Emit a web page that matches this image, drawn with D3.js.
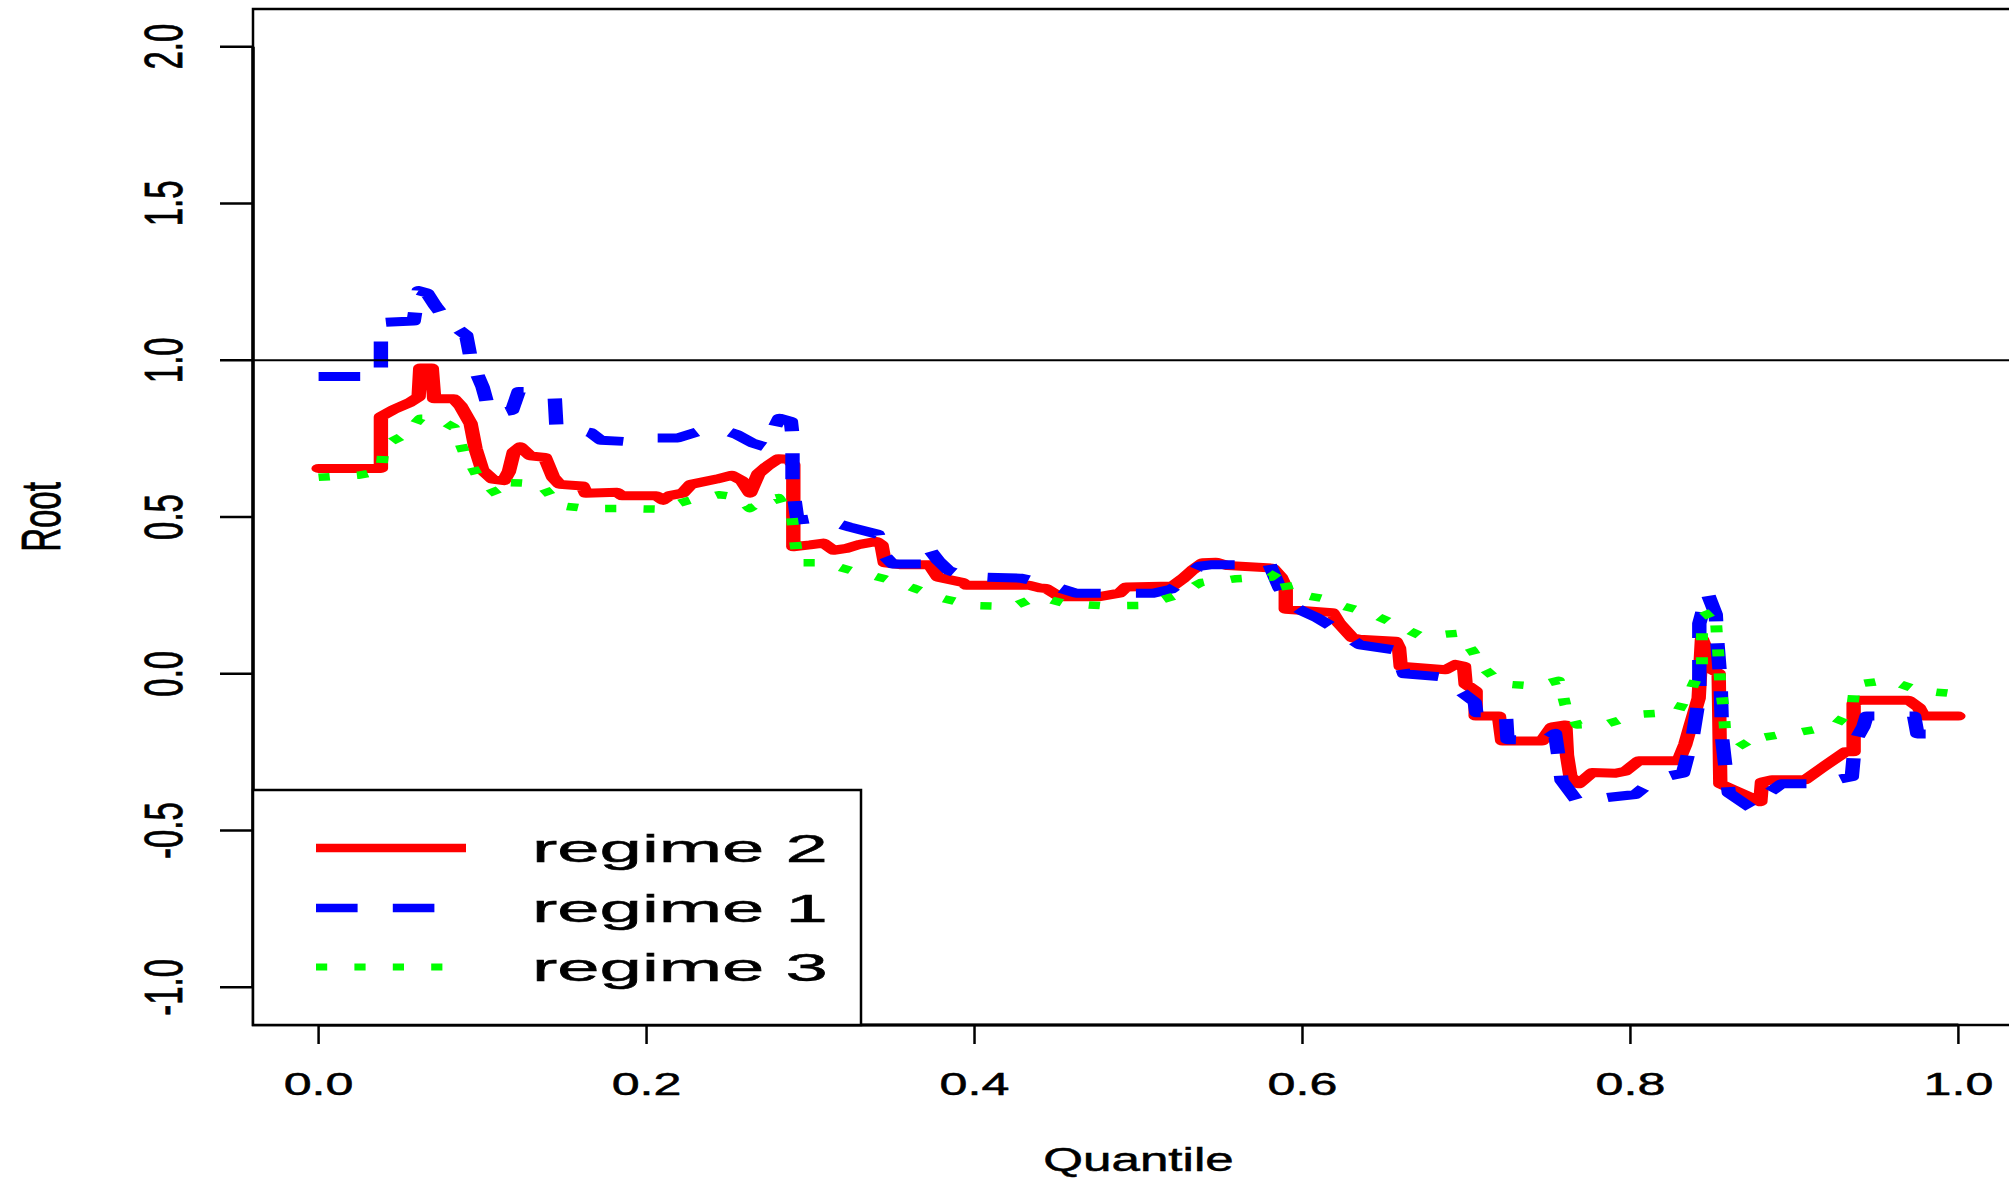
<!DOCTYPE html>
<html>
<head>
<meta charset="utf-8">
<script src="https://cdn.jsdelivr.net/npm/d3@7"></script>
<style>
html,body{margin:0;padding:0;background:#fff;}
svg{display:block;}
text{font-family:"Liberation Sans",Arial,Helvetica,sans-serif;fill:#000;stroke:#000;stroke-width:0.5px;}
</style>
</head>
<body>
<svg id="chart" width="2009" height="1179"></svg>
<script>
// ---------------- data ----------------
const xTicks = [0.0, 0.2, 0.4, 0.6, 0.8, 1.0];
const xTickLabels = ["0.0", "0.2", "0.4", "0.6", "0.8", "1.0"];
const yTicks = [-1.0, -0.5, 0.0, 0.5, 1.0, 1.5, 2.0];
const yTickLabels = ["-1.0", "-0.5", "0.0", "0.5", "1.0", "1.5", "2.0"];
const refLine = 1.0;
const seriesNames = ["regime 2", "regime 1", "regime 3"];

// regime 2 (red, solid)
const regime2Q = [0,0.038,0.038,0.046,0.056,0.061,0.062,0.069,0.0705,0.0825,0.0866,0.0927,0.0957,0.0998,0.106,0.113,0.116,0.119,0.123,0.129,0.138,0.143,0.147,0.161,0.163,0.182,0.185,0.206,0.21,0.214,0.222,0.227,0.2428,0.252,0.2581,0.2631,0.2682,0.2733,0.2804,0.2865,0.2895,0.2895,0.2997,0.3078,0.314,0.322,0.3301,0.3403,0.3433,0.3453,0.3544,0.3727,0.3778,0.393,0.395,0.4336,0.4397,0.4437,0.4519,0.4762,0.4884,0.4924,0.5209,0.5269,0.533,0.5391,0.5472,0.5543,0.5817,0.5868,0.5898,0.5898,0.6182,0.6223,0.6304,0.6345,0.6568,0.6589,0.6599,0.6873,0.6934,0.6985,0.6995,0.7056,0.7056,0.7198,0.7218,0.7461,0.7522,0.7603,0.7613,0.7634,0.7685,0.7766,0.7908,0.7969,0.805,0.8294,0.8334,0.8365,0.8416,0.8436,0.8467,0.8497,0.8538,0.8548,0.8619,0.8741,0.8792,0.8802,0.8863,0.9066,0.9168,0.931,0.9361,0.9361,0.9391,0.9696,0.9757,0.9787,1.0];
const regime2V = [0.655,0.655,0.82,0.843,0.866,0.883,0.975,0.975,0.877,0.877,0.854,0.798,0.718,0.65,0.621,0.616,0.644,0.707,0.724,0.695,0.69,0.627,0.604,0.599,0.576,0.579,0.568,0.568,0.553,0.568,0.576,0.604,0.621,0.633,0.616,0.576,0.638,0.661,0.686,0.684,0.667,0.405,0.411,0.417,0.394,0.4,0.413,0.422,0.411,0.354,0.348,0.348,0.308,0.291,0.282,0.282,0.274,0.272,0.246,0.246,0.257,0.277,0.28,0.303,0.331,0.354,0.356,0.345,0.337,0.308,0.274,0.206,0.195,0.161,0.115,0.11,0.104,0.081,0.024,0.013,0.03,0.024,-0.033,-0.055,-0.135,-0.135,-0.214,-0.214,-0.169,-0.163,-0.26,-0.328,-0.351,-0.315,-0.317,-0.311,-0.277,-0.277,-0.226,-0.169,-0.078,0.11,0.07,0.013,0.001,-0.351,-0.368,-0.396,-0.408,-0.345,-0.338,-0.338,-0.3,-0.249,-0.249,-0.095,-0.084,-0.084,-0.107,-0.135,-0.135];

// regime 1 (blue, dashed)
const regime1Q = [0,0.038,0.038,0.058,0.061,0.066,0.071,0.078,0.09,0.093,0.1,0.104,0.108,0.118,0.122,0.13,0.144,0.145,0.166,0.172,0.19,0.204,0.219,0.236,0.245,0.255,0.265,0.272,0.281,0.288,0.289,0.289,0.292,0.305,0.324,0.341,0.345,0.35,0.37,0.372,0.378,0.384,0.395,0.428,0.442,0.462,0.49,0.509,0.52,0.526,0.537,0.545,0.58,0.586,0.594,0.6,0.609,0.622,0.635,0.657,0.662,0.685,0.695,0.705,0.706,0.724,0.725,0.748,0.754,0.756,0.758,0.768,0.781,0.803,0.815,0.832,0.838,0.842,0.842,0.847,0.852,0.853,0.855,0.856,0.858,0.86,0.874,0.877,0.892,0.913,0.935,0.937,0.942,0.944,0.973,0.975,1.0];
const regime1V = [0.948,0.948,1.12,1.125,1.222,1.215,1.175,1.127,1.08,1.0,0.915,0.84,0.83,0.84,0.9,0.9,0.883,0.79,0.769,0.745,0.74,0.752,0.752,0.78,0.78,0.763,0.735,0.724,0.815,0.805,0.76,0.6,0.49,0.496,0.468,0.445,0.377,0.35,0.35,0.40,0.36,0.33,0.31,0.305,0.29,0.257,0.257,0.257,0.27,0.291,0.343,0.348,0.348,0.274,0.217,0.2,0.178,0.138,0.092,0.075,0.0,-0.01,-0.05,-0.09,-0.124,-0.124,-0.21,-0.212,-0.19,-0.26,-0.34,-0.41,-0.397,-0.385,-0.334,-0.317,-0.2,-0.07,0.16,0.257,0.19,0.1,-0.03,-0.21,-0.3,-0.38,-0.43,-0.408,-0.351,-0.351,-0.328,-0.215,-0.169,-0.135,-0.135,-0.192,-0.192];

// regime 3 (green, dotted)
const regime3Q = [0,0.024,0.038,0.040,0.053,0.062,0.072,0.0825,0.0886,0.0967,0.109,0.115,0.135,0.147,0.164,0.186,0.208,0.226,0.244,0.255,0.263,0.271,0.2804,0.2885,0.2906,0.2926,0.3078,0.327,0.3453,0.3625,0.3809,0.4001,0.4234,0.4387,0.456,0.4793,0.5026,0.5229,0.5381,0.5594,0.5807,0.5868,0.5919,0.6131,0.6254,0.6405,0.6578,0.672,0.6944,0.7034,0.7115,0.7217,0.742,0.7563,0.7603,0.7675,0.7857,0.805,0.8284,0.8365,0.8436,0.8436,0.8517,0.8527,0.8538,0.8548,0.8568,0.8578,0.872,0.8802,0.9025,0.9239,0.9351,0.9371,0.9584,0.9767,1.0];
const regime3V = [0.627,0.633,0.645,0.729,0.763,0.815,0.815,0.786,0.707,0.633,0.57,0.61,0.606,0.536,0.527,0.527,0.525,0.553,0.571,0.565,0.527,0.555,0.562,0.502,0.422,0.354,0.354,0.326,0.303,0.274,0.24,0.217,0.215,0.246,0.223,0.217,0.218,0.249,0.291,0.303,0.308,0.331,0.257,0.24,0.215,0.195,0.155,0.121,0.129,0.075,0.013,-0.033,-0.038,-0.021,-0.099,-0.163,-0.16,-0.129,-0.124,-0.055,0.024,0.183,0.2,0.127,0.047,-0.033,-0.112,-0.186,-0.237,-0.203,-0.186,-0.169,-0.112,-0.033,-0.021,-0.055,-0.064];

// ---------------- drawing ----------------
const svg = d3.select("#chart");
const W = 2009, H = 1179;
const plot = {left: 253, right: 2024, top: 9, bottom: 1025};
const K = 1.6; // horizontal stretch of the original device

const x = d3.scaleLinear().domain([-0.04, 1.04]).range([plot.left, plot.right]);
const y = d3.scaleLinear().domain([-1.12, 2.12]).range([plot.bottom, plot.top]);

svg.append("rect").attr("width", W).attr("height", H).attr("fill", "#fff");

svg.append("defs").append("clipPath").attr("id", "plotclip")
  .append("rect").attr("x", plot.left).attr("y", plot.top)
  .attr("width", plot.right - plot.left).attr("height", plot.bottom - plot.top);

const series = [
  {name: seriesNames[0], q: regime2Q, v: regime2V, color: "#ff0000", width: 9, dash: null},
  {name: seriesNames[1], q: regime1Q, v: regime1V, color: "#0000ff", width: 9, dash: "26,22"},
  {name: seriesNames[2], q: regime3Q, v: regime3V, color: "#00ff00", width: 7.5, dash: "7,17"}
];

// lines drawn in a horizontally compressed frame, then stretched (anisotropic pen)
const line = d3.line().x(d => x(d[0]) / K).y(d => y(d[1]));
const gClip = svg.append("g").attr("clip-path", "url(#plotclip)");
const gLines = gClip.append("g").attr("transform", `scale(${K},1)`);
series.forEach(s => {
  const pts = s.q.map((q, i) => [q, s.v[i]]);
  gLines.append("path")
    .datum(pts)
    .attr("d", line)
    .attr("fill", "none")
    .attr("stroke", s.color)
    .attr("stroke-width", s.width)
    .attr("stroke-linejoin", "round")
    .attr("stroke-linecap", s.dash ? "butt" : "round")
    .attr("stroke-dasharray", s.dash);
});

// reference line
svg.append("line")
  .attr("x1", plot.left).attr("x2", plot.right)
  .attr("y1", y(refLine)).attr("y2", y(refLine))
  .attr("stroke", "#000").attr("stroke-width", 2);

// box
svg.append("rect")
  .attr("x", plot.left).attr("y", plot.top)
  .attr("width", plot.right - plot.left).attr("height", plot.bottom - plot.top)
  .attr("fill", "none").attr("stroke", "#000").attr("stroke-width", 2.5);
svg.append("line").attr("x1", plot.left).attr("x2", plot.left)
  .attr("y1", y(yTicks[yTicks.length-1])).attr("y2", y(yTicks[0]))
  .attr("stroke", "#000").attr("stroke-width", 3.5);
svg.append("line").attr("x1", x(xTicks[0])).attr("x2", x(xTicks[xTicks.length-1]))
  .attr("y1", plot.bottom).attr("y2", plot.bottom)
  .attr("stroke", "#000").attr("stroke-width", 3);

// x axis
const gx = svg.append("g");
xTicks.forEach((t, i) => {
  gx.append("line").attr("x1", x(t)).attr("x2", x(t))
    .attr("y1", plot.bottom).attr("y2", plot.bottom + 19)
    .attr("stroke", "#000").attr("stroke-width", 2.5);
  gx.append("text")
    .attr("transform", `translate(${x(t)},1095) scale(1.57,1)`)
    .attr("text-anchor", "middle")
    .attr("font-size", 32)
    .text(xTickLabels[i]);
});

// y axis
const gy = svg.append("g");
yTicks.forEach((t, i) => {
  gy.append("line").attr("x1", plot.left - 33).attr("x2", plot.left)
    .attr("y1", y(t)).attr("y2", y(t))
    .attr("stroke", "#000").attr("stroke-width", 2.5);
  gy.append("text")
    .attr("transform", `translate(182,${y(t)}) scale(1.6,1) rotate(-90)`)
    .attr("text-anchor", "middle")
    .attr("font-size", 33)
    .text(yTickLabels[i]);
});

// axis titles
svg.append("text")
  .attr("transform", `translate(${(plot.left + plot.right) / 2},1171) scale(1.55,1)`)
  .attr("text-anchor", "middle").attr("font-size", 33)
  .text("Quantile");
svg.append("text")
  .attr("transform", `translate(60,${(plot.top + plot.bottom) / 2}) scale(1.7,1) rotate(-90)`)
  .attr("text-anchor", "middle").attr("font-size", 33)
  .text("Root");

// legend
const legend = {x0: 253, x1: 861, y0: 790, y1: 1025};
svg.append("rect")
  .attr("x", legend.x0).attr("y", legend.y0)
  .attr("width", legend.x1 - legend.x0).attr("height", legend.y1 - legend.y0)
  .attr("fill", "#fff").attr("stroke", "#000").attr("stroke-width", 2.5);
const legendY = [848, 908, 967];
const gLeg = svg.append("g").attr("transform", `scale(${K},1)`);
series.forEach((s, i) => {
  gLeg.append("line")
    .attr("x1", 316 / K).attr("x2", 466 / K)
    .attr("y1", legendY[i]).attr("y2", legendY[i])
    .attr("stroke", s.color).attr("stroke-width", s.width - 0.5)
    .attr("stroke-dasharray", s.dash);
  svg.append("text")
    .attr("transform", `translate(532,${legendY[i] + 14}) scale(1.95,1)`)
    .attr("font-size", 39)
    .text(s.name);
});
</script>
</body>
</html>
